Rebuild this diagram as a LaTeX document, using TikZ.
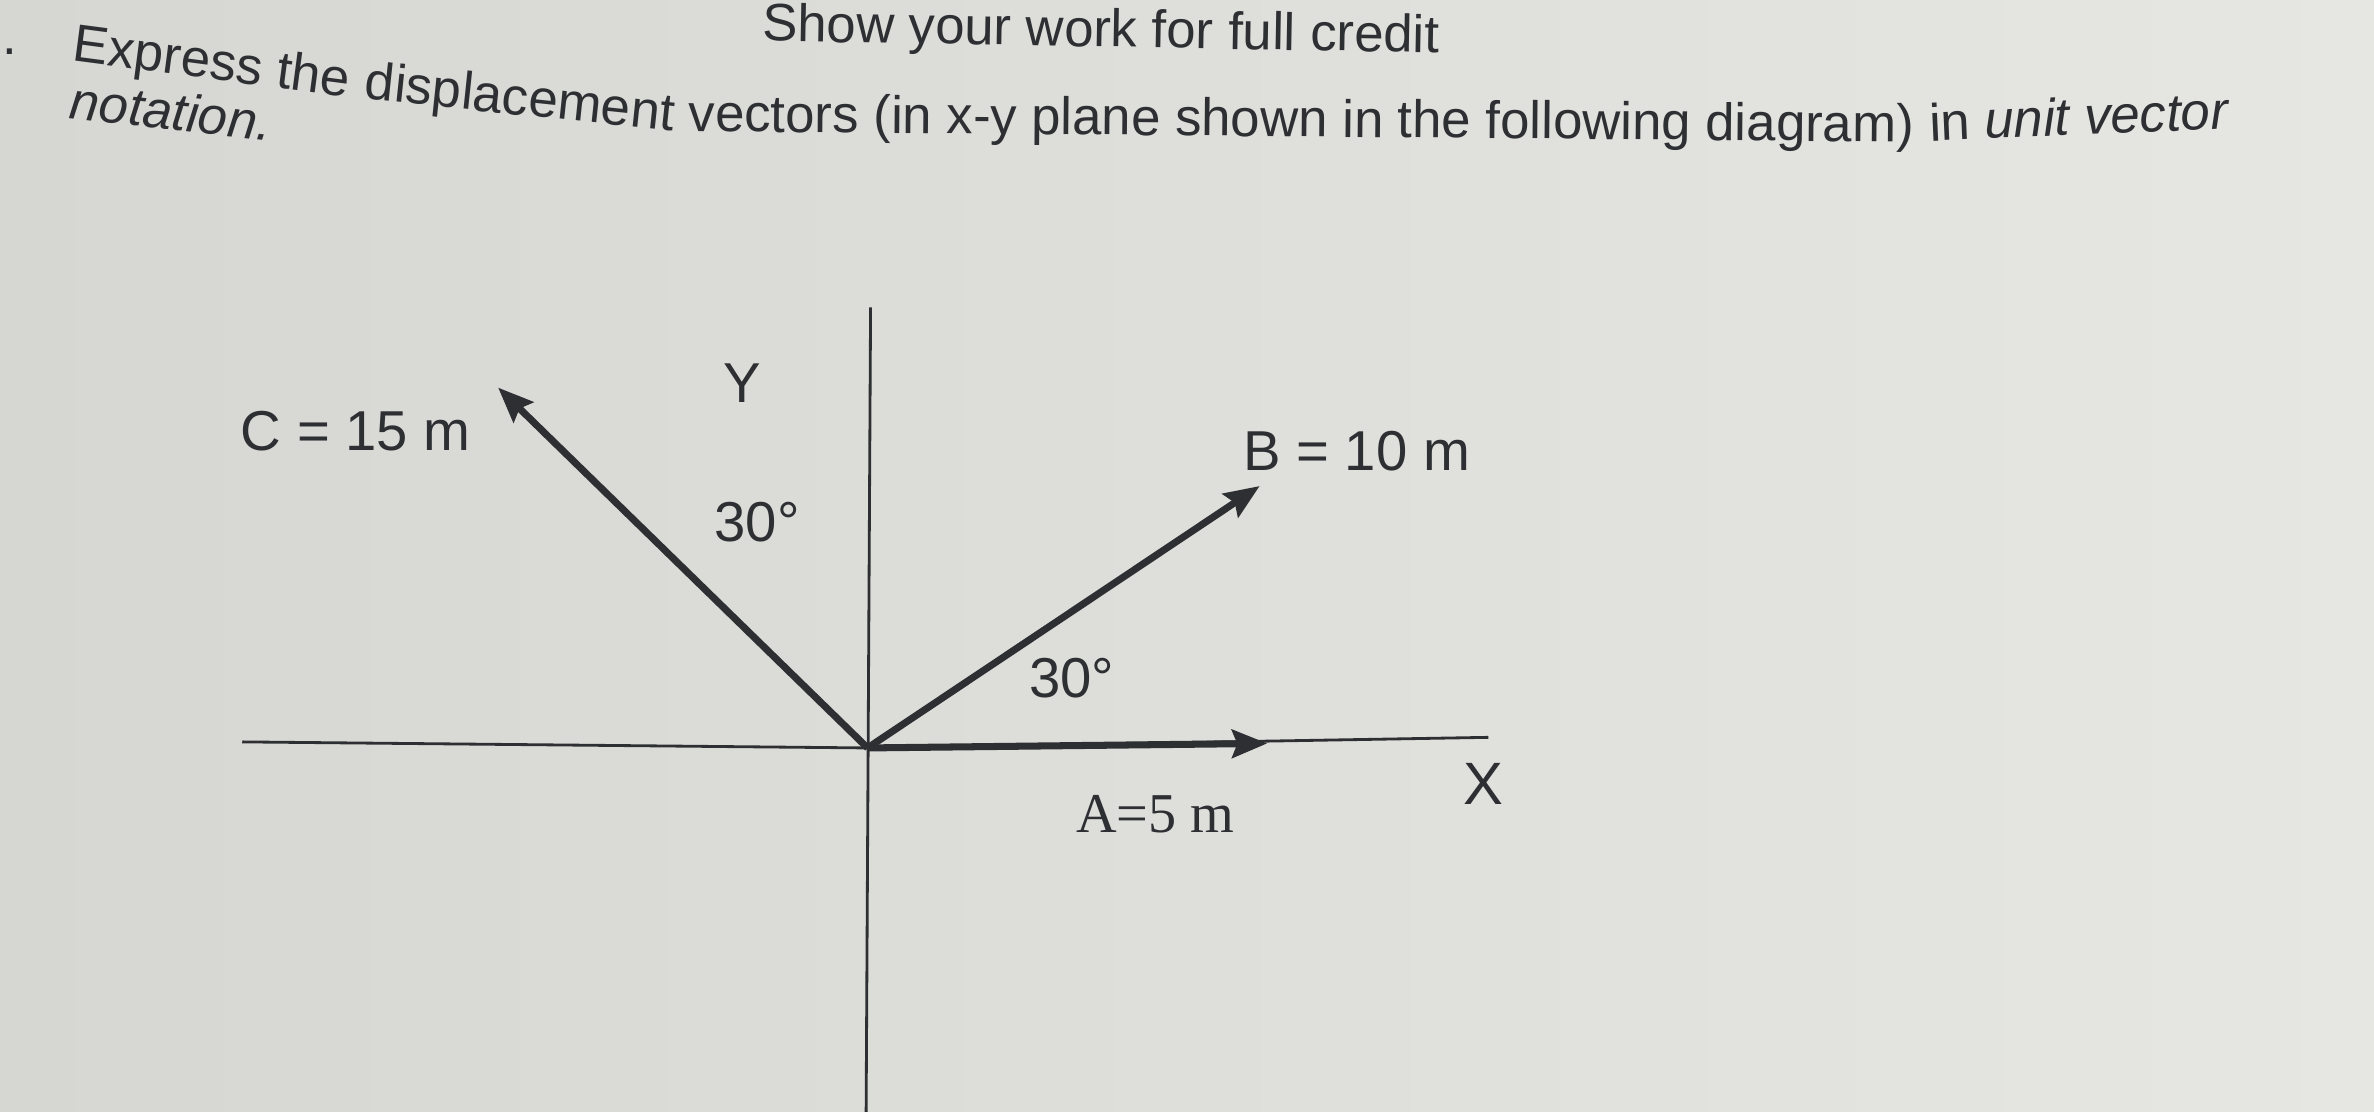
\documentclass[tikz,border=0pt]{standalone}
\usepackage{fontspec}
\setmainfont{Liberation Sans}
\newfontfamily\timesfont{Liberation Serif}
\usepackage{xcolor}
\usetikzlibrary{arrows.meta}
\definecolor{ink}{HTML}{2E2F33}
\definecolor{paperL}{HTML}{D6D7D3}
\definecolor{paperR}{HTML}{E6E6E3}
\newcommand{\txtsize}{\fontsize{15}{18}\selectfont}
\newcommand{\lblsize}{\fontsize{16}{19}\selectfont}

\begin{document}
\begin{tikzpicture}[x=0.01514cm, y=-0.01514cm,
    axisline/.style={draw=ink, line width=0.8pt},
    vec/.style={draw=ink, line width=2pt, -{Stealth[length=10pt,width=8pt,inset=1.5pt]}},
    lbl/.style={text=ink, font=\lblsize, inner sep=0pt},
    para/.style={text=ink, font=\txtsize, inner sep=0pt, anchor=base west}]
    \useasboundingbox[left color=paperL, right color=paperR] (0,0) rectangle (1568,734);
    \node[para, anchor=base east] (num) at (12,36) {1.};
    \node[para, rotate=-1] (credit) at (503,27) {Show your work for full credit};
    \node[para, rotate=-7.5] (q1) at (47,40) {Express the};
    \node[para, rotate=-6] (q2) at (q1.base east) {\ displacement};
    \node[para, rotate=-0.5] (q3) at (q2.base east) {\ vectors (in x-y plane shown in the following diagram)};
    \node[para, rotate=2.5] (q4) at (q3.base east) {\ in \textit{unit vector}};
    \node[para, rotate=-6.5] (q5) at (45,78) {\textit{notation.}};
    \coordinate (O) at (573,494);
    \coordinate (xL) at (160,490);
    \coordinate (xR) at (983,487);
    \coordinate (yT) at (575,203);
    \coordinate (yB) at (572,745);
    \coordinate (Atip) at (837,491);
    \coordinate (Btip) at (832,321);
    \coordinate (Ctip) at (329,256);
    \draw[axisline] (xL) -- (O) -- (xR);
    \draw[axisline] (yB) -- (yT);
    \draw[vec] (O) -- (Atip);
    \draw[vec] (O) -- (Btip);
    \draw[vec] (O) -- (Ctip);
    \node[lbl] (ylab) at (490,253) {Y};
    \node[lbl] (xlab) at (980,518) {\fontsize{17}{20}\selectfont X};
    \node[lbl] (Clab) at (235,285) {C = 15 m};
    \node[lbl] (Blab) at (896,298) {B = 10 m};
    \node[lbl] (Alab) at (763,538) {\timesfont A=5 m};
    \node[lbl] (angC) at (500,345) {30°};
    \node[lbl] (angB) at (708,448) {30°};
\end{tikzpicture}
\end{document}
